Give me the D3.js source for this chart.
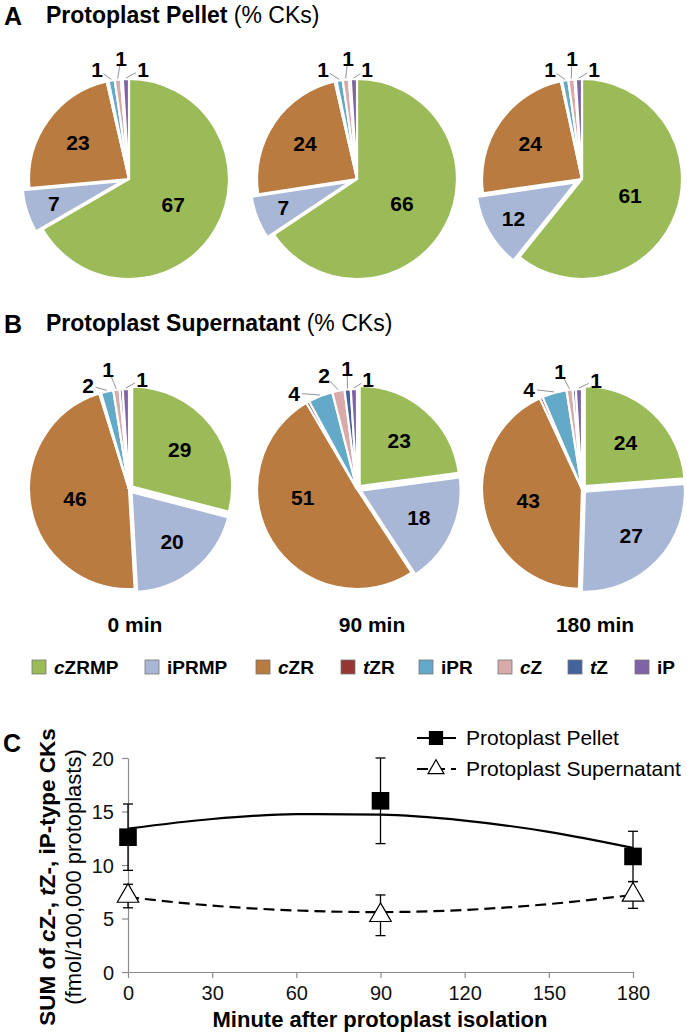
<!DOCTYPE html>
<html><head><meta charset="utf-8">
<script src="https://cdn.jsdelivr.net/npm/d3@7"></script>
<style>
body{margin:0;background:#fff;}
svg{display:block;font-family:"Liberation Sans",Arial,sans-serif;}
</style></head>
<body><svg id="c" width="687" height="1035"></svg>
<script>
// ---------- DATA ----------
const categories = ["cZRMP","iPRMP","cZR","tZR","iPR","cZ","tZ","iP"];
const catParts = [["c","ZRMP"],["","iPRMP"],["c","ZR"],["t","ZR"],["","iPR"],["c","Z"],["t","Z"],["","iP"]];
const timeLabels = ["0 min","90 min","180 min"];
const pellet0   = [67, 7, 23, 0.3, 1, 1, 0.3, 1];
const pellet90  = [66, 7, 24, 0.3, 1, 1, 0.3, 1];
const pellet180 = [61,12, 24, 0.2, 1, 1, 0.2, 1];
const super0    = [29,20, 46, 0.3, 2, 1, 0.5, 1];
const super90   = [23,18, 51, 0.5, 4, 2, 1, 1];
const super180  = [24,27, 43, 0.5, 4, 1, 0.5, 1];
// which small slices carry an outside label
const pelletOutside = [[4,5,7],[4,5,7],[4,5,7]];
const superOutside  = [[4,5,7],[4,5,6,7],[4,5,7]];

const minutes = [0, 90, 180];
const pelletMean = [12.6, 16.0, 10.8];
const pelletErr  = [3.1, 4.0, 2.35];
const superMean  = [7.1, 5.3, 7.2];
const superErr   = [1.1, 1.9, 1.25];
const trendX = [0, 30, 60, 90, 120, 150, 180];
const pelletTrend = [13.4, 14.3, 14.75, 14.7, 14.15, 13.1, 11.6];
const superTrend  = [7.0, 6.2, 5.75, 5.6, 5.8, 6.35, 7.2];
const yTicks = [0, 5, 10, 15, 20];
const xTicks = [0, 30, 60, 90, 120, 150, 180];

// ---------- LAYOUT ----------
const colors = ["#9bbb59","#a9b7d7","#b97b40","#943634","#63a9c8","#d8aaaa","#44639c","#7e64a6"];
const svg = d3.select("#c");
const pieCx = [129, 357, 582];
const pieR = 100;
const rowA = {cy:179, data:[pellet0,pellet90,pellet180], outside:pelletOutside, explode:{1:7},
  inFrac:[0.51,0.72,0.63], inShift:[[0,0,0],[0,0,0],[0,0,0]],
  labelOff:[[[-32,-110],[-8,-121],[14,-110]],[[-34,-110],[-9,-121],[10,-110]],[[-32,-110],[-10,-121],[12,-110]]]};
const rowB = {cy:489, data:[super0,super90,super180], outside:superOutside, explode:{0:4,1:4},
  inFrac:[0.6,0.64,0.55], inShift:[[0,0,0],[0,0,0.4],[0,0,0]],
  labelOff:[[[-41,-104],[-21,-120],[13,-110]],[[-63,-96],[-33,-114],[-10,-121],[11,-110]],[[-53,-100],[-22,-118],[14,-109]]]};

function title(letter, bold, rest, y){
  svg.append("text").attr("x",4).attr("y",y+2).attr("font-size",25).attr("font-weight","bold").text(letter);
  const t = svg.append("text").attr("x",46).attr("y",y).attr("font-size",23);
  t.append("tspan").attr("font-weight","bold").text(bold);
  t.append("tspan").text(" "+rest);
}
title("A","Protoplast Pellet","(% CKs)",23);
title("B","Protoplast Supernatant","(% CKs)",331);

const pie = d3.pie().sort(null).value(d=>d);
const arc = d3.arc().innerRadius(0).outerRadius(pieR);

function drawRow(row){
  row.data.forEach((vals,i)=>{
    const g = svg.append("g").attr("transform",`translate(${pieCx[i]},${row.cy})`);
    const arcs = pie(vals);
    g.selectAll("path").data(arcs).join("path")
      .attr("d",arc)
      .attr("fill",(d,j)=>colors[j])
      .attr("stroke","#fff").attr("stroke-width",2.2).attr("stroke-linejoin","round")
      .attr("transform",(d,j)=>{
        const e=row.explode[j]||0; const a=(d.startAngle+d.endAngle)/2;
        return `translate(${e*Math.sin(a)},${-e*Math.cos(a)})`;
      });
    // inside labels for the three big slices
    arcs.slice(0,3).forEach((d,j)=>{
      const e=row.explode[j]||0;
      const a=(d.startAngle+d.endAngle)/2 + row.inShift[i][j], rr=pieR*row.inFrac[j]+e;
      g.append("text").attr("x",rr*Math.sin(a)).attr("y",-rr*Math.cos(a)+7.5)
        .attr("text-anchor","middle").attr("font-size",21).attr("font-weight","bold").text(d.data);
    });
    // outside labels with leader lines
    row.outside[i].forEach((j,k)=>{
      const d=arcs[j], a=(d.startAngle+d.endAngle)/2;
      const [lx,ly]=row.labelOff[i][k];
      const px=(pieR+1)*Math.sin(a), py=-(pieR+1)*Math.cos(a);
      const vx=px-lx, vy=py-ly, len=Math.hypot(vx,vy);
      g.append("line").attr("x1",lx+vx/len*8).attr("y1",ly+vy/len*8).attr("x2",px).attr("y2",py)
        .attr("stroke","#777").attr("stroke-width",0.8);
      g.append("text").attr("x",lx).attr("y",ly+7.5).attr("text-anchor","middle")
        .attr("font-size",21).attr("font-weight","bold").text(Math.round(d.data));
    });
  });
}
drawRow(rowA);
drawRow(rowB);

// time labels
const timeX = [135, 372, 595];
timeLabels.forEach((t,i)=>svg.append("text").attr("x",timeX[i]).attr("y",632)
  .attr("text-anchor","middle").attr("font-size",21).attr("font-weight","bold").text(t));

// legend
const legX = [32,145,256,341,419,498,568,635];
categories.forEach((c,i)=>{
  svg.append("rect").attr("x",legX[i]).attr("y",660).attr("width",14).attr("height",14)
    .attr("fill",colors[i]).attr("stroke","#777").attr("stroke-width",0.8);
  const t=svg.append("text").attr("x",legX[i]+22).attr("y",674).attr("font-size",19).attr("font-weight","bold");
  if(catParts[i][0]) t.append("tspan").attr("font-style","italic").text(catParts[i][0]);
  t.append("tspan").text(catParts[i][1]);
});

// ---------- PANEL C ----------
svg.append("text").attr("x",3).attr("y",752).attr("font-size",25).attr("font-weight","bold").text("C");
const x = d3.scaleLinear().domain([0,180]).range([128,633]);
const y = d3.scaleLinear().domain([0,20]).range([972,758]);

const gx = svg.append("g").attr("transform","translate(0,972)")
  .call(d3.axisBottom(x).tickValues(xTicks).tickSize(6).tickPadding(4).tickSizeOuter(0));
const gy = svg.append("g").attr("transform","translate(128,0)")
  .call(d3.axisLeft(y).tickValues(yTicks).tickSize(6).tickPadding(8).tickSizeOuter(0));
[gx,gy].forEach(g=>{
  g.select(".domain").attr("stroke","#8c8c8c").attr("stroke-width",1.2);
  g.selectAll(".tick line").attr("stroke","#8c8c8c").attr("stroke-width",1.2);
  g.selectAll(".tick text").attr("font-size",20).attr("fill","#111")
   .attr("font-family","Liberation Sans, Arial, sans-serif");
});
gx.selectAll(".tick text").attr("dy","0.9em");
gy.selectAll(".tick text").attr("dy","0.35em");

// axis titles
svg.append("text").attr("x",380).attr("y",1027).attr("text-anchor","middle")
  .attr("font-size",22).attr("font-weight","bold").text("Minute after protoplast isolation");
const yt = svg.append("text").attr("transform","translate(55,877) rotate(-90)")
  .attr("text-anchor","middle").attr("font-size",22.5).attr("font-weight","bold");
[["SUM of ",0],["c",1],["Z-, ",0],["t",1],["Z-, iP-type CKs",0]].forEach(([s,it])=>
  yt.append("tspan").attr("font-style",it?"italic":"normal").text(s));
svg.append("text").attr("transform","translate(81,877) rotate(-90)")
  .attr("text-anchor","middle").attr("font-size",22).text("(fmol/100,000 protoplasts)");

// trend lines
const line = d3.line().x((d,i)=>x(trendX[i])).y(d=>y(d)).curve(d3.curveMonotoneX);
svg.append("path").attr("d",line(pelletTrend)).attr("fill","none").attr("stroke","#000").attr("stroke-width",2.2);
svg.append("path").attr("d",line(superTrend)).attr("fill","none").attr("stroke","#000").attr("stroke-width",2.2)
  .attr("stroke-dasharray","11,6");

// error bars
function errBars(means, errs){
  means.forEach((m,i)=>{
    const cx=x(minutes[i]);
    svg.append("line").attr("x1",cx).attr("x2",cx).attr("y1",y(m-errs[i])).attr("y2",y(m+errs[i]))
      .attr("stroke","#000").attr("stroke-width",1.3);
    [m-errs[i],m+errs[i]].forEach(v=>svg.append("line").attr("x1",cx-5).attr("x2",cx+5)
      .attr("y1",y(v)).attr("y2",y(v)).attr("stroke","#000").attr("stroke-width",1.3));
  });
}
errBars(pelletMean,pelletErr);
errBars(superMean,superErr);

// markers
const sq = d3.symbol().type(d3.symbolSquare).size(310);
const tri = d3.symbol().type(d3.symbolTriangle).size(200);
pelletMean.forEach((m,i)=>svg.append("path").attr("d",sq())
  .attr("transform",`translate(${x(minutes[i])},${y(m)})`).attr("fill","#000"));
superMean.forEach((m,i)=>svg.append("path").attr("d",tri())
  .attr("transform",`translate(${x(minutes[i])},${y(m)})`).attr("fill","#fff").attr("stroke","#000").attr("stroke-width",1.2));

// legend C
const lg = [["Protoplast Pellet",738,false],["Protoplast Supernatant",769,true]];
lg.forEach(([t,ly,dash])=>{
  svg.append("line").attr("x1",417).attr("x2",456).attr("y1",ly).attr("y2",ly)
    .attr("stroke","#000").attr("stroke-width",2.2).attr("stroke-dasharray",dash?"11,6":null);
  svg.append("path").attr("d",dash?d3.symbol().type(d3.symbolTriangle).size(110)():d3.symbol().type(d3.symbolSquare).size(170)())
    .attr("transform",`translate(436,${ly})`).attr("fill",dash?"#fff":"#000").attr("stroke","#000").attr("stroke-width",1.2);
  svg.append("text").attr("x",466).attr("y",ly+7).attr("font-size",21).text(t);
});
</script></body></html>
